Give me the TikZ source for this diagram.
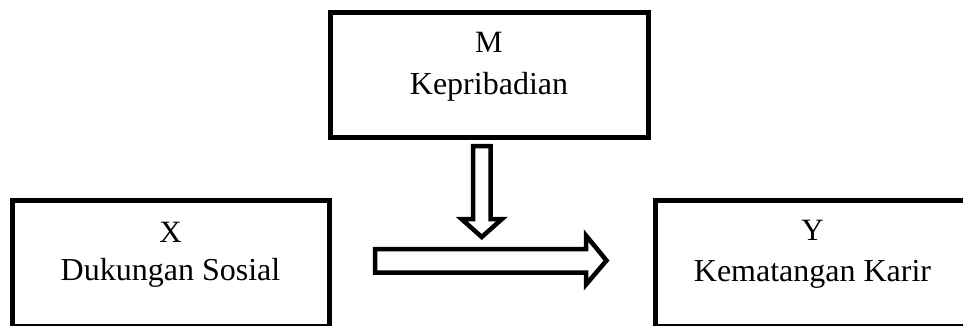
\documentclass[tikz,border=0pt]{standalone}
\usepackage{fontspec}
\setmainfont{Liberation Serif}
\newcommand{\lettersize}{\fontsize{31}{34}\selectfont}
\newcommand{\namesize}{\fontsize{32}{36}\selectfont}
\begin{document}
\begin{tikzpicture}[x=1pt,y=-1pt,
  boxnode/.style={draw, line width=5pt, rectangle, inner sep=0pt},
  lettertext/.style={anchor=base, inner sep=0pt},
  nametext/.style={anchor=base, inner sep=0pt},
  fatarrow/.style={draw, line width=4.5pt, fill=white, line join=miter}]
\useasboundingbox (0,0) rectangle (963,325);
\clip (0,0) rectangle (963,325);
% boxes
\node[boxnode, minimum width=318pt, minimum height=125pt] (Mbox) at (489,75) {};
\node[boxnode, minimum width=317pt, minimum height=126pt] (Xbox) at (170.5,263) {};
\node[boxnode, minimum width=314.5pt, minimum height=126pt] (Ybox) at (812.75,263) {};
% texts
\node[lettertext] (Mt) at (489,52.7) {\lettersize M};
\node[nametext] (Mn) at (489,94) {\namesize Kepribadian};
\node[lettertext] (Xt) at (170.5,242) {\lettersize X};
\node[nametext] (Xn) at (170.5,280.5) {\namesize Dukungan Sosial};
\node[lettertext] (Yt) at (812.5,240.5) {\lettersize Y};
\node[nametext] (Yn) at (812.5,281.5) {\namesize Kematangan Karir};
% down arrow
\draw[fatarrow] (473,146) -- (490.5,146) -- (490.5,219) -- (502,219) -- (481.75,237)
  -- (461.5,219) -- (473,219) -- cycle;
% right arrow
\draw[fatarrow] (375,249) -- (586,249) -- (586,235.5) -- (606.5,260.5) -- (586,284.5)
  -- (586,272.5) -- (375,272.5) -- cycle;
\end{tikzpicture}
\end{document}
